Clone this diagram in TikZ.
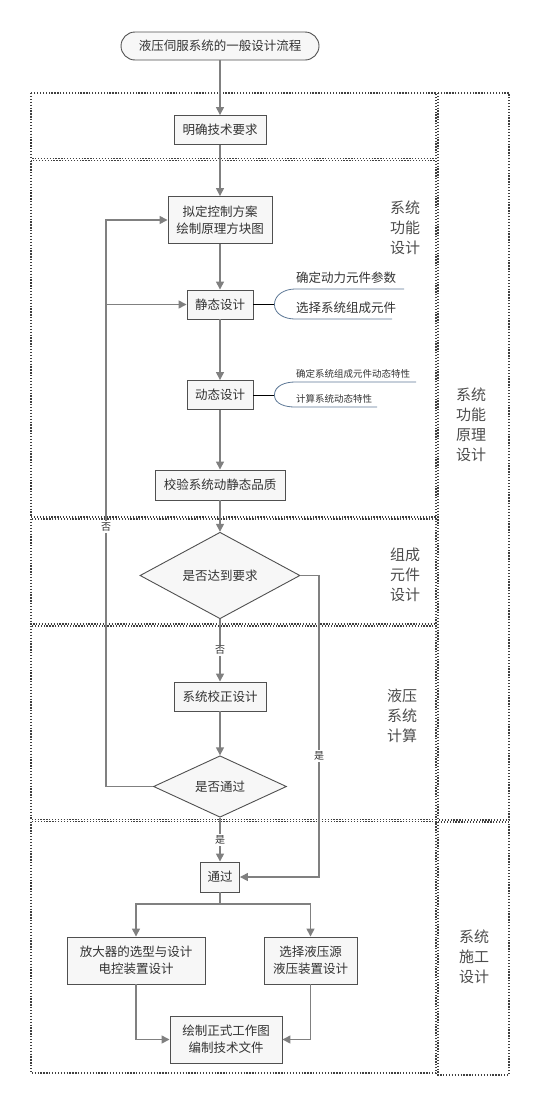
\documentclass[tikz,border=0pt]{standalone}
\usepackage{fontspec}
\setmainfont{Noto Sans CJK SC}
\usetikzlibrary{arrows.meta,shapes.geometric}
\definecolor{linegray}{HTML}{808080}
\definecolor{boxfill}{HTML}{F7F7F7}
\definecolor{boxedge}{HTML}{505050}
\definecolor{bracecol}{HTML}{5D7896}
\definecolor{textgray}{HTML}{333333}

\begin{document}
\begin{tikzpicture}[x=1pt,y=-1pt]
            \tikzset{
                box/.style={draw=boxedge, fill=boxfill, line width=0.9pt, inner sep=0pt,
                    align=center, text=textgray, font=\fontsize{12.5}{17}\selectfont},
                decision/.style={diamond, draw=boxedge, fill=boxfill, line width=0.9pt, inner sep=0pt,
                    text=textgray, font=\fontsize{12.5}{17}\selectfont},
                flow/.style={draw=linegray, line width=1.4pt, -{Triangle[length=8pt,width=8pt]}},
                link/.style={draw=linegray, line width=1.4pt},
                frame/.style={draw=black!75, line width=1.3pt, dash pattern=on 1.3pt off 1.6pt},
                zone/.style={align=center, text=black!70, font=\fontsize{15}{20}\selectfont},
                answer/.style={fill=white, inner sep=1.5pt, text=textgray, font=\fontsize{10}{12}\selectfont},
                note/.style={anchor=west, inner sep=0pt, text=textgray, font=\fontsize{12.5}{15}\selectfont},
                smallnote/.style={anchor=west, inner sep=0pt, text=textgray, font=\fontsize{9.5}{12}\selectfont},
                brace/.style={draw=bracecol, line width=0.8pt}
            }
            \useasboundingbox (0,0) rectangle (540,1106);

            \draw[frame] (31,93) rectangle (436,158.5);
            \draw[frame] (31,160.5) rectangle (436,517);
            \draw[frame] (31,519) rectangle (436,624);
            \draw[frame] (31,626) rectangle (436,819.5);
            \draw[frame] (31,821.5) rectangle (436,1073);
            \draw[frame] (438,93) rectangle (509,820);
            \draw[frame] (438,822) rectangle (509,1075);

            \node[zone] (funcdesign) at (405,228) {系统\\功能\\设计};
            \node[zone] (partdesign) at (405,575) {组成\\元件\\设计};
            \node[zone] (hydcalc) at (402,716) {液压\\系统\\计算};
            \node[zone] (principle) at (471,425) {系统\\功能\\原理\\设计};
            \node[zone] (build) at (474,957) {系统\\施工\\设计};

            \node[box, rounded corners=14pt, minimum width=198pt, minimum height=28pt] (title) at (220,46) {液压伺服系统的一般设计流程};
            \node[box, minimum width=92pt, minimum height=29pt] (require) at (220,130) {明确技术要求};
            \node[box, minimum width=104pt, minimum height=47pt] (scheme) at (220,220) {拟定控制方案\\绘制原理方块图};
            \node[box, minimum width=66pt, minimum height=29pt] (static) at (220,304.5) {静态设计};
            \node[box, minimum width=66pt, minimum height=29pt] (dynamic) at (220,395) {动态设计};
            \node[box, minimum width=130pt, minimum height=30pt] (check) at (220,485) {校验系统动静态品质};
            \node[decision, minimum width=160pt, minimum height=57pt] (reach) at (220,575.5) {是否达到要求};
            \node[box, minimum width=92pt, minimum height=29pt] (correct) at (220,696.5) {系统校正设计};
            \node[decision, minimum width=133pt, minimum height=47pt] (pass) at (220,786.5) {是否通过};
            \node[box, minimum width=39pt, minimum height=30pt] (ok) at (220,877) {通过};
            \node[box, minimum width=138pt, minimum height=47pt] (amp) at (136,960.5) {放大器的选型与设计\\电控装置设计};
            \node[box, minimum width=93pt, minimum height=47pt] (source) at (310.5,960.5) {选择液压源\\液压装置设计};
            \node[box, minimum width=112pt, minimum height=47pt] (drawing) at (226,1039.5) {绘制正式工作图\\编制技术文件};

            \draw[flow] (title) -- (require);
            \draw[flow] (require) -- (scheme);
            \draw[flow] (scheme) -- (static);
            \draw[flow] (static) -- (dynamic);
            \draw[flow] (dynamic) -- (check);
            \draw[flow] (check) -- (reach);
            \draw[flow] (reach) -- node[answer] (no2) {否} (correct);
            \draw[flow] (correct) -- (pass);
            \draw[flow] (pass) -- node[answer] (yes2) {是} (ok);

            \coordinate (loop) at (106,786.5);
            \draw[flow] (pass.west) -- (loop) |- (scheme.west);
            \draw[flow] (loop |- static.west) -- (static.west);
            \node[answer] (no1) at (106,527) {否};

            \coordinate (bypass) at (319,700);
            \draw[flow] (reach.east) -- (reach.east -| bypass) |- (ok.east);
            \node[answer] (yes1) at (319,756) {是};

            \coordinate (fork) at (220,904);
            \draw[link] (ok.south) -- (fork);
            \draw[flow] (fork) -| (amp.north);
            \draw[flow] (fork) -| (source.north);
            \draw[flow] (amp.south) |- (drawing.west);
            \draw[flow] (source.south) |- (drawing.east);

            \draw[line width=0.8pt] (static.east) -- ++(21,0) coordinate (sbrace);
            \draw[brace] (404,289) -- (295,289) to[out=180,in=90] (sbrace)
                to[out=-90,in=180] (295,319) -- (392,319);
            \node[note] (power) at (296,278) {确定动力元件参数};
            \node[note] (select) at (296,308) {选择系统组成元件};

            \draw[line width=0.8pt] (dynamic.east) -- ++(21,0) coordinate (dbrace);
            \draw[brace] (416,382) -- (295,382) to[out=180,in=90] (dbrace)
                to[out=-90,in=180] (295,407) -- (377,407);
            \node[smallnote] (dynpart) at (296,374) {确定系统组成元件动态特性};
            \node[smallnote] (dyncalc) at (296,399) {计算系统动态特性};
\end{tikzpicture}
\end{document}
